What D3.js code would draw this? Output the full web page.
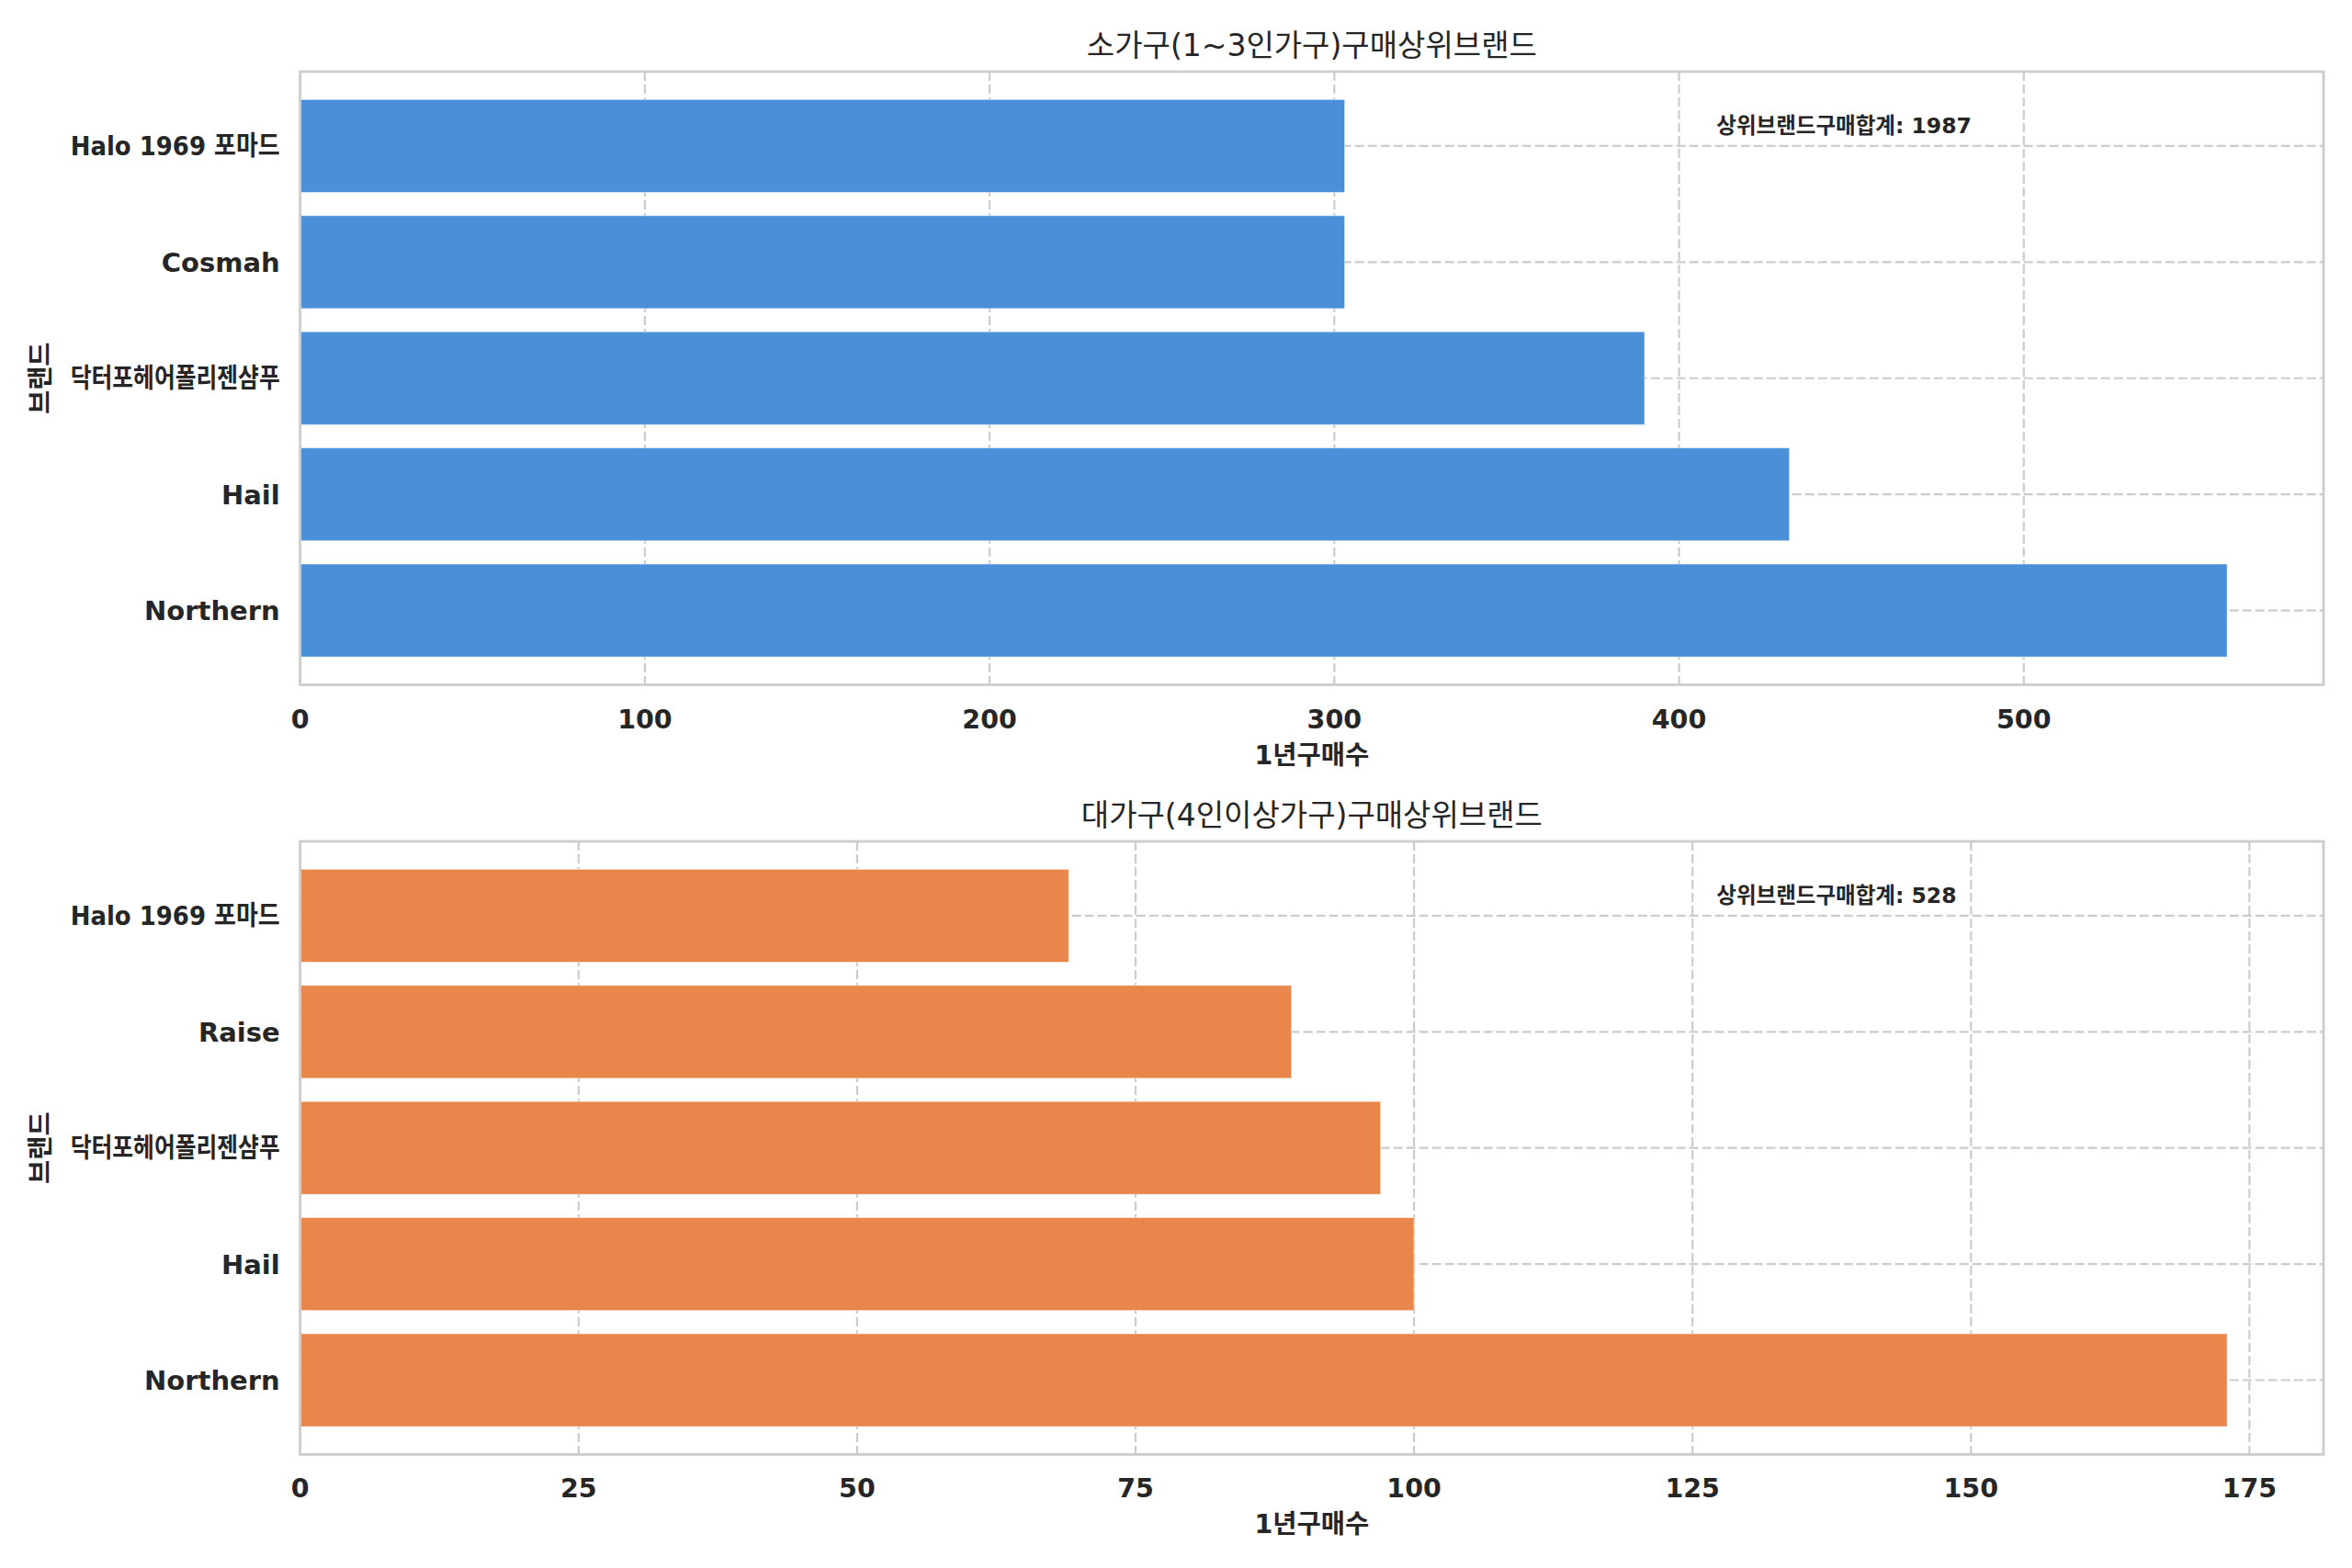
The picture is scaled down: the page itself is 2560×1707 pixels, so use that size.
<!DOCTYPE html>
<html>
<head>
<meta charset="utf-8">
<script src="https://cdn.jsdelivr.net/npm/d3@7"></script>
<style>
  body { margin: 0; background: #ffffff; }
  text { font-family: "DejaVu Sans", "Noto Sans CJK KR", sans-serif; fill: #262626; }
</style>
</head>
<body>
<div id="chart"></div>
<script>
// Brands, bottom to top (as in the original barh order)
const brandsSmall = ["Northern", "Hail", "닥터포헤어폴리젠샴푸", "Cosmah", "Halo 1969 포마드"];
const countsSmall = [559, 432, 390, 303, 303];
const ticksSmall = [0, 100, 200, 300, 400, 500];

const brandsLarge = ["Northern", "Hail", "닥터포헤어폴리젠샴푸", "Raise", "Halo 1969 포마드"];
const countsLarge = [173, 100, 97, 89, 69];
const ticksLarge = [0, 25, 50, 75, 100, 125, 150, 175];

const titleSmall = "소가구(1~3인가구)구매상위브랜드";
const titleLarge = "대가구(4인이상가구)구매상위브랜드";
const xLabel = "1년구매수";
const yLabel = "브랜드";
const totalLabel = "상위브랜드구매합계";

const W = 2560, H = 1707;

const svg = d3
  .select("#chart")
  .append("svg")
  .attr("width", W)
  .attr("height", H);

svg.append("rect").attr("width", W).attr("height", H).attr("fill", "#ffffff");

function drawPanel(brands, counts, ticks, title, color, top, bottom) {
  const left = 326.7, right = 2529;
  const data = brands.map((b, i) => ({ brand: b, count: counts[i] }));

  // Set x and y scales (matplotlib-like 5% margin on x)
  const x = d3
    .scaleLinear()
    .domain([0, d3.max(counts) * 1.05])
    .range([left, right]);
  const y = d3
    .scaleBand()
    .domain(brands.slice().reverse())
    .range([top, bottom])
    .paddingInner(0.2)
    .paddingOuter(0.24);

  const g = svg.append("g");

  // Dashed grid behind bars
  g.append("g")
    .selectAll("line.vgrid")
    .data(ticks)
    .enter()
    .append("line")
    .attr("x1", (d) => x(d))
    .attr("x2", (d) => x(d))
    .attr("y1", top)
    .attr("y2", bottom)
    .attr("stroke", "#cccccc")
    .attr("stroke-width", 2.2)
    .attr("stroke-dasharray", "10,4");

  g.append("g")
    .selectAll("line.hgrid")
    .data(brands)
    .enter()
    .append("line")
    .attr("x1", left)
    .attr("x2", right)
    .attr("y1", (d) => y(d) + y.bandwidth() / 2)
    .attr("y2", (d) => y(d) + y.bandwidth() / 2)
    .attr("stroke", "#cccccc")
    .attr("stroke-width", 2.2)
    .attr("stroke-dasharray", "10,4");

  // Bars
  g.append("g")
    .selectAll("rect")
    .data(data)
    .enter()
    .append("rect")
    .attr("x", x(0))
    .attr("y", (d) => y(d.brand))
    .attr("width", (d) => x(d.count) - x(0))
    .attr("height", y.bandwidth())
    .attr("fill", color)
    .attr("stroke", "#ffffff")
    .attr("stroke-opacity", 0.5)
    .attr("stroke-width", 1);

  // Frame
  g.append("rect")
    .attr("x", left)
    .attr("y", top)
    .attr("width", right - left)
    .attr("height", bottom - top)
    .attr("fill", "none")
    .attr("stroke", "#cccccc")
    .attr("stroke-width", 2.8);

  // x tick labels
  g.append("g")
    .selectAll("text")
    .data(ticks)
    .enter()
    .append("text")
    .attr("x", (d) => x(d))
    .attr("y", bottom + 47)
    .attr("text-anchor", "middle")
    .attr("font-size", 28.5)
    .attr("font-weight", "bold")
    .text((d) => d);

  // y tick labels, squeezed if they run into the axis title
  const maxLabelW = 228;
  g.append("g")
    .selectAll("text")
    .data(brands)
    .enter()
    .append("text")
    .attr("x", left - 22)
    .attr("y", (d) => y(d) + y.bandwidth() / 2)
    .attr("dy", "0.36em")
    .attr("text-anchor", "end")
    .attr("font-size", 29)
    .attr("font-weight", "bold")
    .text((d) => d)
    .each(function () {
      const w = this.getComputedTextLength();
      if (w > maxLabelW) {
        d3.select(this)
          .attr("textLength", maxLabelW)
          .attr("lengthAdjust", "spacingAndGlyphs");
      }
    });

  // Axis titles
  g.append("text")
    .attr("x", (left + right) / 2)
    .attr("y", bottom + 86)
    .attr("text-anchor", "middle")
    .attr("font-size", 28.5)
    .attr("font-weight", "bold")
    .text(xLabel);

  g.append("text")
    .attr("transform", `translate(54,${(top + bottom) / 2}) rotate(-90)`)
    .attr("text-anchor", "middle")
    .attr("font-size", 28.5)
    .attr("font-weight", "bold")
    .text(yLabel);

  // Chart title
  g.append("text")
    .attr("x", (left + right) / 2)
    .attr("y", top - 17)
    .attr("text-anchor", "middle")
    .attr("font-size", 33)
    .text(title);

  // Total annotation
  g.append("text")
    .attr("x", left + 0.7 * (right - left))
    .attr("y", top + 67)
    .attr("font-size", 23.5)
    .attr("font-weight", "bold")
    .text(`${totalLabel}: ${d3.sum(counts)}`);
}

drawPanel(brandsSmall, countsSmall, ticksSmall, titleSmall, "#4a90d9", 78, 745.5);
drawPanel(brandsLarge, countsLarge, ticksLarge, titleLarge, "#e8864c", 916, 1583.4);
</script>
</body>
</html>
